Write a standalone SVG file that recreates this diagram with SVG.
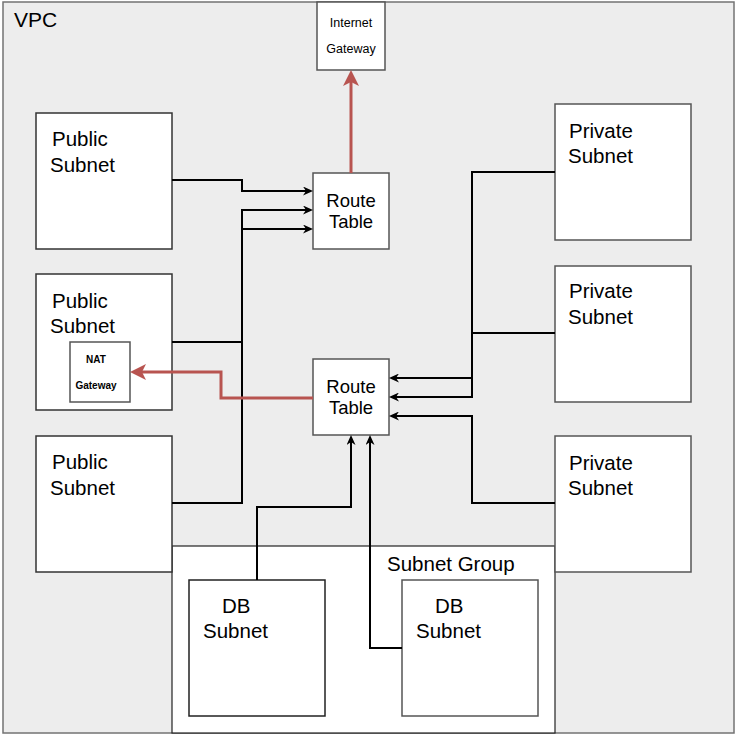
<svg xmlns="http://www.w3.org/2000/svg" width="737" height="737" viewBox="0 0 737 737">
  <style>
    .box { fill: #ffffff; stroke: #555555; stroke-width: 1.5; }
    .lbl { font-family: "Liberation Sans", Arial, sans-serif; font-size: 20.5px; fill: #000000; }
    .rt { font-family: "Liberation Sans", Arial, sans-serif; font-size: 18.5px; fill: #000000; text-anchor: middle; }
    .small { font-family: "Liberation Sans", Arial, sans-serif; font-size: 12.5px; fill: #000000; text-anchor: middle; }
    .nat { font-family: "Liberation Sans", Arial, sans-serif; font-size: 10px; font-weight: bold; fill: #000000; text-anchor: middle; }
    .conn { fill: none; stroke: #000000; stroke-width: 2; }
    .red { fill: none; stroke: #b85450; stroke-width: 3; }
  </style>
  <defs>
    <marker id="arr" markerUnits="userSpaceOnUse" markerWidth="10" markerHeight="9" refX="7" refY="4.5" orient="auto">
      <path d="M0,0 L10,4.5 L0,9 L3,4.5 Z" fill="#000000"/>
    </marker>
    <marker id="arrRed" markerUnits="userSpaceOnUse" markerWidth="16" markerHeight="16" refX="12" refY="8" orient="auto">
      <path d="M0,0 L16,8 L0,16 L4,8 Z" fill="#b85450"/>
    </marker>
  </defs>

  <rect x="0" y="0" width="737" height="737" fill="#ffffff"/>

  <g id="vpc">
    <rect x="3" y="2" width="731" height="731" fill="#ededed" stroke="#737373" stroke-width="1.5"/>
    <text class="lbl" x="14" y="27" style="font-size:21px">VPC</text>
  </g>

  <g id="subnet-group">
    <rect x="172" y="546" width="383" height="187" fill="#ffffff" stroke="#222222" stroke-width="1.2"/>
    <text class="lbl" x="387" y="571">Subnet Group</text>
  </g>

  <g id="public-subnet-1">
    <rect class="box" x="36" y="113" width="136" height="136" style="stroke:#333333"/>
    <text class="lbl" x="52" y="146">Public</text>
    <text class="lbl" x="50" y="172">Subnet</text>
  </g>

  <g id="public-subnet-2">
    <rect class="box" x="36" y="274" width="136" height="136" style="stroke:#333333"/>
    <text class="lbl" x="52" y="308">Public</text>
    <text class="lbl" x="50" y="333">Subnet</text>
  </g>

  <g id="nat-gateway">
    <rect class="box" x="70" y="342" width="60" height="60"/>
    <text class="nat" x="96" y="363">NAT</text>
    <text class="nat" x="96" y="389">Gateway</text>
  </g>

  <g id="public-subnet-3">
    <rect class="box" x="36" y="436" width="136" height="136" style="stroke:#333333"/>
    <text class="lbl" x="52" y="469">Public</text>
    <text class="lbl" x="50" y="495">Subnet</text>
  </g>

  <g id="private-subnet-1">
    <rect class="box" x="555" y="104" width="136" height="136"/>
    <text class="lbl" x="569" y="138">Private</text>
    <text class="lbl" x="568" y="163">Subnet</text>
  </g>

  <g id="private-subnet-2">
    <rect class="box" x="555" y="266" width="136" height="136"/>
    <text class="lbl" x="569" y="298">Private</text>
    <text class="lbl" x="568" y="324">Subnet</text>
  </g>

  <g id="private-subnet-3">
    <rect class="box" x="555" y="436" width="136" height="136"/>
    <text class="lbl" x="569" y="470">Private</text>
    <text class="lbl" x="568" y="495">Subnet</text>
  </g>

  <g id="internet-gateway">
    <rect class="box" x="317" y="2" width="68" height="68"/>
    <text class="small" x="351" y="27">Internet</text>
    <text class="small" x="351" y="53">Gateway</text>
  </g>

  <g id="route-table-1">
    <rect class="box" x="313" y="173" width="76" height="76"/>
    <text class="rt" x="351" y="207">Route</text>
    <text class="rt" x="351" y="228">Table</text>
  </g>

  <g id="route-table-2">
    <rect class="box" x="313" y="359" width="76" height="76"/>
    <text class="rt" x="351" y="393">Route</text>
    <text class="rt" x="351" y="414">Table</text>
  </g>

  <g id="db-subnet-1">
    <rect class="box" x="189" y="580" width="136" height="136" style="stroke:#222222"/>
    <text class="lbl" x="222" y="613">DB</text>
    <text class="lbl" x="203" y="638">Subnet</text>
  </g>

  <g id="db-subnet-2">
    <rect class="box" x="402" y="580" width="136" height="136"/>
    <text class="lbl" x="435" y="613">DB</text>
    <text class="lbl" x="416" y="638">Subnet</text>
  </g>

  <g id="connectors">
    <path class="conn" d="M172,180 H242 V191 H310" marker-end="url(#arr)"/>
    <path class="conn" d="M172,503 H242 V210 H310" marker-end="url(#arr)"/>
    <path class="conn" d="M172,342 H242 V229 H310" marker-end="url(#arr)"/>
    <path class="conn" d="M555,172 H472 V378 H392" marker-end="url(#arr)"/>
    <path class="conn" d="M555,333 H472 V397 H392" marker-end="url(#arr)"/>
    <path class="conn" d="M555,503 H472 V416 H392" marker-end="url(#arr)"/>
    <path class="conn" d="M257,580 V507 H351 V438" marker-end="url(#arr)"/>
    <path class="conn" d="M402,648 H370 V438" marker-end="url(#arr)"/>
    <path class="red" d="M351,173 V74" marker-end="url(#arrRed)"/>
    <path class="red" d="M313,398 H221 V372 H134" marker-end="url(#arrRed)"/>
  </g>
</svg>
